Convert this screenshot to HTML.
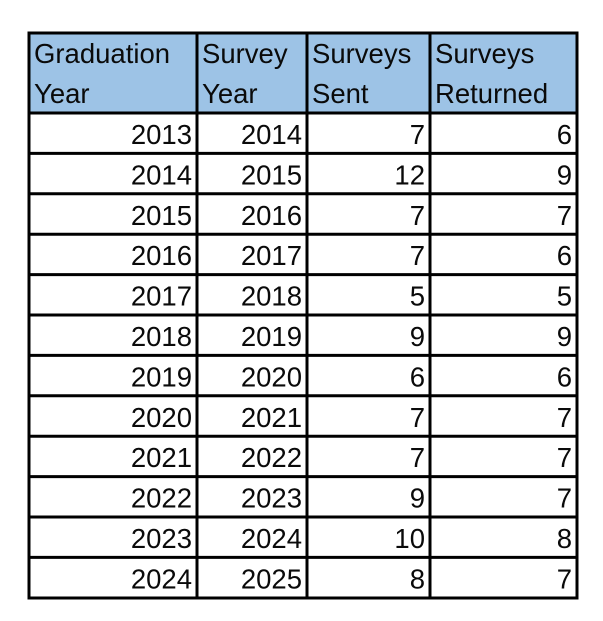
<!DOCTYPE html>
<html><head><style>
html,body{margin:0;padding:0;background:#fff;width:603px;height:621px;overflow:hidden}
svg text{font-family:"Liberation Sans",sans-serif;font-size:27.5px;fill:#0a0a0a}
</style></head><body>
<svg width="603" height="621" xmlns="http://www.w3.org/2000/svg">
<rect x="29" y="33" width="548" height="80" fill="#9dc3e6"/>
<g stroke="#000" stroke-width="3">
<rect x="29" y="33" width="548" height="565" fill="none"/>
<line x1="197" y1="33" x2="197" y2="598"/>
<line x1="307" y1="33" x2="307" y2="598"/>
<line x1="430" y1="33" x2="430" y2="598"/>
<line x1="29" y1="113" x2="577" y2="113"/>
<line x1="29" y1="153.4" x2="577" y2="153.4"/>
<line x1="29" y1="193.8" x2="577" y2="193.8"/>
<line x1="29" y1="234.2" x2="577" y2="234.2"/>
<line x1="29" y1="274.6" x2="577" y2="274.6"/>
<line x1="29" y1="315" x2="577" y2="315"/>
<line x1="29" y1="355.4" x2="577" y2="355.4"/>
<line x1="29" y1="395.8" x2="577" y2="395.8"/>
<line x1="29" y1="436.2" x2="577" y2="436.2"/>
<line x1="29" y1="476.6" x2="577" y2="476.6"/>
<line x1="29" y1="517" x2="577" y2="517"/>
<line x1="29" y1="557.4" x2="577" y2="557.4"/>
</g>
<text x="34" y="63">Graduation</text><text x="34" y="103">Year</text>
<text x="202" y="63">Survey</text><text x="202" y="103">Year</text>
<text x="312" y="63">Surveys</text><text x="312" y="103">Sent</text>
<text x="435" y="63">Surveys</text><text x="435" y="103">Returned</text>
<g text-anchor="end">
<text x="192" y="144">2013</text><text x="302" y="144">2014</text><text x="425" y="144">7</text><text x="572" y="144">6</text>
<text x="192" y="184.4">2014</text><text x="302" y="184.4">2015</text><text x="425" y="184.4">12</text><text x="572" y="184.4">9</text>
<text x="192" y="224.8">2015</text><text x="302" y="224.8">2016</text><text x="425" y="224.8">7</text><text x="572" y="224.8">7</text>
<text x="192" y="265.2">2016</text><text x="302" y="265.2">2017</text><text x="425" y="265.2">7</text><text x="572" y="265.2">6</text>
<text x="192" y="305.6">2017</text><text x="302" y="305.6">2018</text><text x="425" y="305.6">5</text><text x="572" y="305.6">5</text>
<text x="192" y="346">2018</text><text x="302" y="346">2019</text><text x="425" y="346">9</text><text x="572" y="346">9</text>
<text x="192" y="386.4">2019</text><text x="302" y="386.4">2020</text><text x="425" y="386.4">6</text><text x="572" y="386.4">6</text>
<text x="192" y="426.8">2020</text><text x="302" y="426.8">2021</text><text x="425" y="426.8">7</text><text x="572" y="426.8">7</text>
<text x="192" y="467.2">2021</text><text x="302" y="467.2">2022</text><text x="425" y="467.2">7</text><text x="572" y="467.2">7</text>
<text x="192" y="507.6">2022</text><text x="302" y="507.6">2023</text><text x="425" y="507.6">9</text><text x="572" y="507.6">7</text>
<text x="192" y="548">2023</text><text x="302" y="548">2024</text><text x="425" y="548">10</text><text x="572" y="548">8</text>
<text x="192" y="588.4">2024</text><text x="302" y="588.4">2025</text><text x="425" y="588.4">8</text><text x="572" y="588.4">7</text>
</g>
</svg>
</body></html>
